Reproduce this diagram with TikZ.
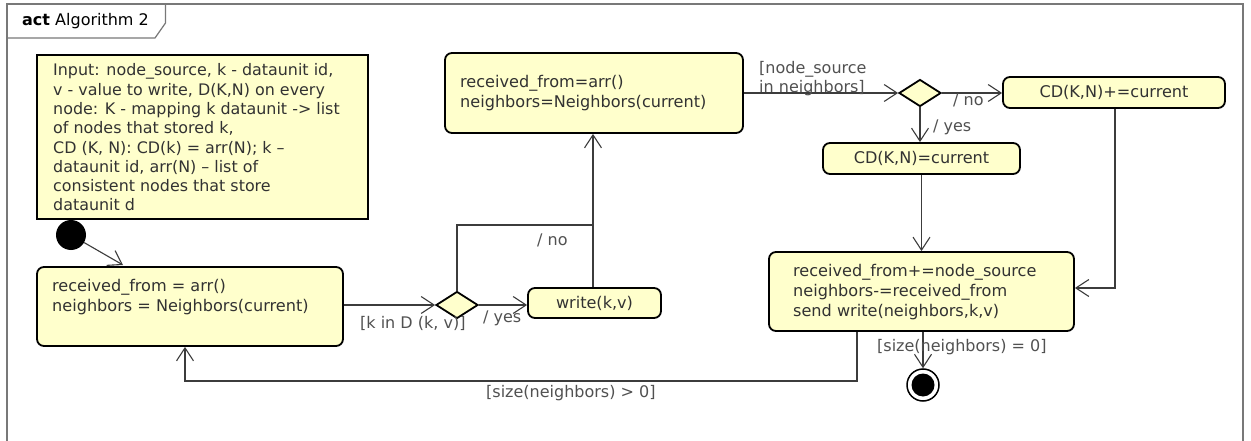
\documentclass[tikz,border=0pt]{standalone}
\usepackage{fontspec}
\setmainfont{DejaVu Sans}
\usetikzlibrary{arrows.meta,shapes.geometric}
\definecolor{fillc}{RGB}{255,255,204}
\definecolor{txt}{RGB}{50,50,50}
\definecolor{edge}{RGB}{60,60,60}
\definecolor{framec}{RGB}{120,120,120}
\begin{document}
\begin{tikzpicture}[x=1pt,y=-1pt,
  txtnode/.style={font=\fontsize{16.1}{20}\selectfont, text=txt, inner sep=0pt},
  lbl/.style={font=\fontsize{16}{19}\selectfont, text=txt!85, inner sep=0pt},
  act/.style={draw=black, line width=1.8pt, fill=fillc, rounded corners=7pt, inner sep=0pt},
  decis/.style={draw=black, line width=1.8pt, fill=fillc, diamond, inner sep=0pt, minimum width=42pt, minimum height=27pt},
  conn/.style={draw=edge, line width=1.1pt, -{Straight Barb[length=13pt,width=17pt,line width=1.1pt]}},
  plain/.style={draw=edge, line width=1.1pt}]
\useasboundingbox (0,0) rectangle (1251,441);
\fill[white] (0,0) rectangle (1251,441);
% frame
\draw[framec, line width=1.5pt] (7,460) -- (7,4) -- (1243,4) -- (1243,460);
\draw[framec, line width=1.2pt] (7,38) -- (155,38) -- (165.5,23) -- (165.5,4);
\node[anchor=west, font=\fontsize{16}{19}\selectfont, text=black, inner sep=0pt] (title) at (22,21) {\textbf{act} Algorithm 2};
% note
\node[draw=black, line width=2.5pt, fill=fillc, minimum width=331pt, minimum height=164pt, inner sep=0pt] (note) at (202.5,137) {};
\node[txtnode, anchor=west, align=left, font=\fontsize{15.9}{19.3}\selectfont] (notetext) at (53,137.5) {Input: node\_source, k - dataunit id,\\v - value to write, D(K,N) on every\\node: K - mapping k dataunit -> list\\of nodes that stored k,\\CD (K, N): CD(k) = arr(N); k –\\dataunit id, arr(N) – list of\\consistent nodes that store\\dataunit d};
% initial
\node[circle, fill=black, minimum size=30pt, inner sep=0pt] (init) at (71,235) {};
% box1
\node[act, minimum width=306pt, minimum height=79pt] (b1) at (190,306.5) {};
\node[txtnode, anchor=west, align=left] (b1t) at (52,297) {received\_from = arr()\\neighbors = Neighbors(current)};
% diamond1
\node[decis] (d1) at (457,305) {};
% write
\node[act, minimum width=133pt, minimum height=30pt] (wr) at (594.5,303) {};
\node[txtnode] (wrt) at (594.5,303) {write(k,v)};
% box2
\node[act, minimum width=298pt, minimum height=80pt] (b2) at (594,93) {};
\node[txtnode, anchor=west, align=left] (b2t) at (460,93) {received\_from=arr()\\neighbors=Neighbors(current)};
% diamond2
\node[decis] (d2) at (920,93) {};
% CD+=
\node[act, minimum width=222pt, minimum height=31pt] (cdp) at (1114,92.5) {};
\node[txtnode] (cdpt) at (1114,92.5) {CD(K,N)+=current};
% CD=
\node[act, minimum width=197pt, minimum height=31pt] (cde) at (921.5,158.5) {};
\node[txtnode] (cdet) at (921.5,158.5) {CD(K,N)=current};
% box3
\node[act, minimum width=305pt, minimum height=79pt] (b3) at (921.5,291.5) {};
\node[txtnode, anchor=west, align=left] (b3t) at (793,292) {received\_from+=node\_source\\neighbors-=received\_from\\send write(neighbors,k,v)};
% final
\node[circle, draw=black, line width=1.5pt, fill=white, minimum size=32pt, inner sep=0pt] (fin) at (923,385) {};
\node[circle, fill=black, minimum size=23pt, inner sep=0pt] (finin) at (923,385) {};
% connectors
\draw[conn] (init) -- (123,265);
\draw[conn] (b1.east |- d1) -- (d1.west);
\draw[conn] (d1.east) -- (d1.east -| wr.west);
\coordinate (j1) at (457,225);
\coordinate (j2) at (593,225);
\draw[plain] (d1.north) -- (j1) -- (j2);
\draw[conn] (wr.north -| j2) -- (j2 |- b2.south);
\draw[conn] (b2.east |- d2) -- (d2.west);
\draw[conn] (d2.east) -- (cdp.west |- d2);
\draw[conn] (d2.south) -- (d2.south |- cde.north);
\draw[conn] (cde.south) -- (b3.north -| cde.south);
\coordinate (c1) at (1115,288);
\draw[conn] (cdp.south -| c1) -- (c1) -- (b3.east |- c1);
\draw[conn] (b3.south -| fin) -- (fin.north);
\coordinate (r1) at (857,381);
\coordinate (r2) at (185,381);
\draw[conn] (b3.south -| r1) -- (r1) -- (r2) -- (b1.south -| r2);
% labels
\node[lbl, anchor=west] (l1) at (360,323) {[k in D (k, v)]};
\node[lbl, anchor=west] (l2) at (483,318) {/ yes};
\node[lbl, anchor=west] (l3) at (537,240) {/ no};
\node[lbl, anchor=west, align=left, font=\fontsize{16}{19}\selectfont] (l4) at (759,78.5) {[node\_source\\in neighbors]};
\node[lbl, anchor=west] (l5) at (953,100) {/ no};
\node[lbl, anchor=west] (l6) at (933,127) {/ yes};
\node[lbl, anchor=west] (l7) at (877,347) {[size(neighbors) = 0]};
\node[lbl, anchor=west] (l8) at (486,393) {[size(neighbors) > 0]};
\end{tikzpicture}
\end{document}
